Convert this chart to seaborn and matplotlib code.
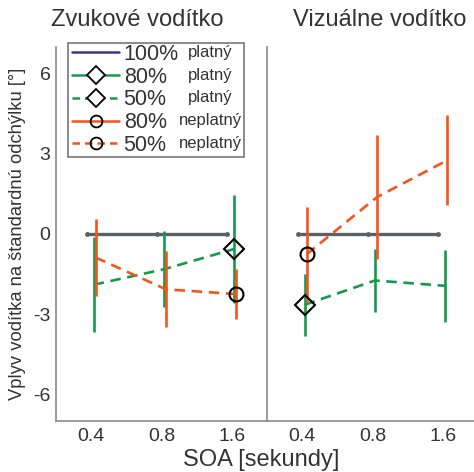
import numpy as np
import pandas as pd
import matplotlib
matplotlib.use("Agg")
import matplotlib.pyplot as plt
from matplotlib.lines import Line2D
from matplotlib.patches import Rectangle
import seaborn as sns

# ---- data ----
soa_labels = ["0.4", "0.8", "1.6"]
panel_titles = ["Zvukové vodítko", "Vizuálne vodítko"]

baseline = [0.0, 0.0, 0.0]  # 100% platný

audio_valid50 = [-1.90, -1.32, -0.56]
audio_valid50_err = [1.78, 1.43, 2.02]
audio_invalid50 = [-0.88, -2.07, -2.25]
audio_invalid50_err = [1.45, 1.43, 0.93]

visual_valid50 = [-2.65, -1.74, -1.94]
visual_valid50_err = [1.15, 1.18, 1.35]
visual_invalid50 = [-0.76, 1.38, 2.76]
visual_invalid50_err = [1.77, 2.32, 1.69]

legend_pct = ["100%", "80%", "50%", "80%", "50%"]
legend_kind = ["platný", "platný", "platný", "neplatný", "neplatný"]

# ---- style ----
sns.set_style("white")
plt.rcParams["font.family"] = ["Liberation Sans", "DejaVu Sans"]

GRAY = "#5b6066"
GREEN = "#159a4c"
ORANGE = "#f5541c"
PURPLE = "#3d3590"
SPINE = "#8a8a8a"
TXT = "#333333"

W, H = 474, 472
fig = plt.figure(figsize=(W / 100, H / 100), dpi=100)

def fig_rect(x0, y0, x1, y1):
    return [x0 / W, 1 - y1 / H, (x1 - x0) / W, (y1 - y0) / H]

ax1 = fig.add_axes(fig_rect(56, 47, 267, 421))
ax2 = fig.add_axes(fig_rect(267, 47, 478, 421))

panels = [
    (ax1, audio_valid50, audio_valid50_err, audio_invalid50, audio_invalid50_err, 2),
    (ax2, visual_valid50, visual_valid50_err, visual_invalid50, visual_invalid50_err, 0),
]

idx = np.arange(len(soa_labels))
for ax, gv, ge, ov, oe, mk in panels:
    # baseline
    df0 = pd.DataFrame({"x": idx - 0.063, "y": baseline})
    sns.lineplot(data=df0, x="x", y="y", ax=ax, color=GRAY, lw=2.4,
                 marker="o", markersize=3.5, markeredgewidth=0, zorder=2)
    # green (50% platný)
    xg = idx + 0.035
    ax.errorbar(xg, gv, yerr=ge, fmt="none", ecolor=GREEN, elinewidth=1.9,
                capsize=0, zorder=3)
    dfg = pd.DataFrame({"x": xg, "y": gv})
    sns.lineplot(data=dfg, x="x", y="y", ax=ax, color=GREEN, lw=1.9,
                 zorder=3).lines[-1].set_dashes([4, 2.5])
    # orange (50% neplatný)
    xo = idx + 0.063
    ax.errorbar(xo, ov, yerr=oe, fmt="none", ecolor=ORANGE, elinewidth=1.9,
                capsize=0, zorder=4)
    dfo = pd.DataFrame({"x": xo, "y": ov})
    sns.lineplot(data=dfo, x="x", y="y", ax=ax, color=ORANGE, lw=1.9,
                 zorder=4).lines[-1].set_dashes([4, 2.5])
    # markers at one point
    ax.plot(xg[mk], gv[mk], marker="D", ms=10.5, mfc="none", mec="black",
            mew=1.5, ls="none", zorder=6)
    ax.plot(xo[mk], ov[mk], marker="o", ms=10, mfc="none", mec="black",
            mew=1.5, ls="none", zorder=6)

    ax.set_xlim(-0.5, 2.5)
    ax.set_ylim(-7, 7)
    ax.set_xticks(idx)
    ax.set_xticklabels(soa_labels, fontsize=14, color=TXT)
    ax.set_yticks([-6, -3, 0, 3, 6])
    ax.set_xlabel("")
    ax.set_ylabel("")
    for s in ["top", "right"]:
        ax.spines[s].set_visible(False)
    for s in ["left", "bottom"]:
        ax.spines[s].set_color(SPINE)
        ax.spines[s].set_linewidth(1.2)
    ax.tick_params(direction="in", length=3, width=1, color=SPINE,
                   labelsize=14, labelcolor=TXT, pad=5)
    ax.tick_params(axis="y", pad=4)
    ax.patch.set_alpha(0)

ax1.set_yticklabels(["-6", "-3", "0", "3", "6"])
ax2.tick_params(labelleft=False)

fig.text(137 / W, 1 - 20 / H, panel_titles[0], fontsize=17, color=TXT,
         ha="center", va="center")
fig.text(380 / W, 1 - 20 / H, panel_titles[1], fontsize=17, color=TXT,
         ha="center", va="center")
fig.text(261 / W, 1 - 460 / H, "SOA [sekundy]", fontsize=17, color=TXT,
         ha="center", va="center")
fig.text(18 / W, 1 - 234 / H, "Vplyv vodítka na štandardnú odchýlku [°]",
         fontsize=13.2, color=TXT, rotation=90, ha="center", va="center")

# ---- legend ----
handles = [
    Line2D([], [], color=PURPLE, lw=1.8),
    Line2D([], [], color=GREEN, lw=1.8, marker="D", ms=9, mfc="white", mec="black", mew=1.3),
    Line2D([], [], color=GREEN, lw=1.8, ls=(0, (3, 2)), marker="D", ms=9, mfc="white", mec="black", mew=1.3),
    Line2D([], [], color=ORANGE, lw=1.8, marker="o", ms=8.5, mfc="none", mec="black", mew=1.3),
    Line2D([], [], color=ORANGE, lw=1.8, ls=(0, (3, 2)), marker="o", ms=8.5, mfc="none", mec="black", mew=1.3),
]
leg = ax1.legend(handles, legend_pct, loc="upper left",
                 bbox_to_anchor=(72 / W, 1 - 44 / H), bbox_transform=fig.transFigure,
                 frameon=False, fontsize=15.5, handlelength=2.2, handletextpad=0.2,
                 labelspacing=0.08, borderpad=0, borderaxespad=0)
for t in leg.get_texts():
    t.set_color(TXT)
leg.set_zorder(10)
fig.canvas.draw()
for t, kind in zip(leg.get_texts(), legend_kind):
    bb = t.get_window_extent()
    base = bb.y0 + 8.0
    fig.text(210 / W, base / H, kind, fontsize=12, color=TXT,
             ha="center", va="baseline")

fig.patches.append(Rectangle((68 / W, 1 - 157 / H), (244 - 68) / W, (157 - 43) / H,
                             transform=fig.transFigure, fill=False,
                             edgecolor="#777777", lw=1.2, figure=fig))

fig.savefig("out.png", dpi=100)
